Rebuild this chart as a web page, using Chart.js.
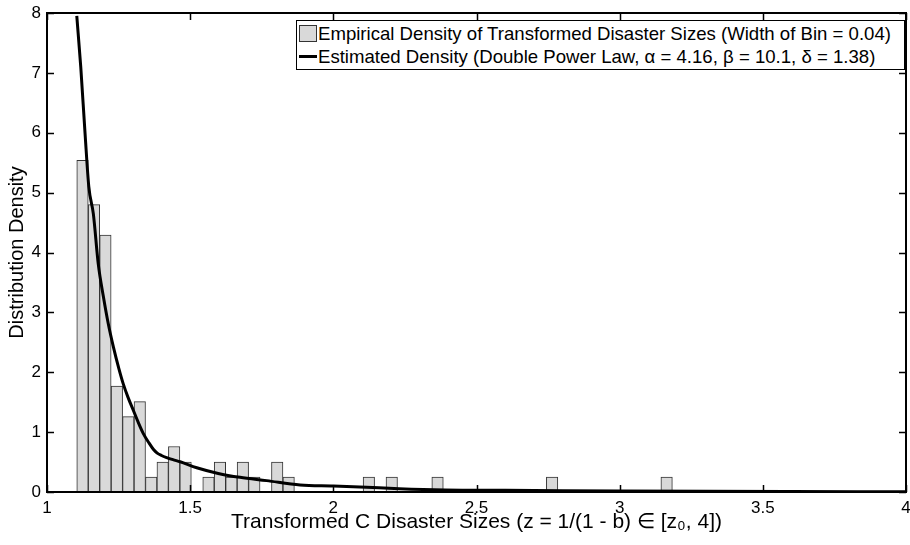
<!DOCTYPE html>
<html>
<head>
<meta charset="utf-8">
<script src="https://cdn.jsdelivr.net/npm/chart.js@4.4.1/dist/chart.umd.min.js"></script>
<style>
  body { margin: 0; background: #fff; }
  #wrap { position: relative; width: 910px; height: 545px; }
  #legend {
    position: absolute; left: 296px; top: 20px; width: 609px; height: 50px;
    border: 1px solid #000; background: #fff;
    font: 18.6px "Liberation Sans", Arial, sans-serif; color: #000;
    padding: 1px 0 0 2px; box-sizing: border-box;
  }
  #legend .row { display: flex; align-items: center; height: 23px; white-space: nowrap; }
  #legend .sw { width: 18px; margin-right: 1px; box-sizing: border-box; }
</style>
</head>
<body>
<div id="wrap">
  <canvas id="chart"></canvas>
  <div id="legend"></div>
</div>
<script>
document.addEventListener('DOMContentLoaded', function () {
    // Histogram bins (width 0.04, first bin starts at z0)
    const binStart = 1.104;
    const binWidth = 0.04;
    const densityValues = [
        5.54, 4.80, 4.29, 1.77, 1.26, 1.51, 0.25, 0.50, 0.76, 0.50,
        0, 0.25, 0.50, 0.25, 0.50, 0.25, 0, 0.50, 0.25, 0,
        0, 0, 0, 0, 0, 0.25, 0, 0.25, 0, 0,
        0, 0.25, 0, 0, 0, 0, 0, 0, 0, 0,
        0, 0.25, 0, 0, 0, 0, 0, 0, 0, 0,
        0, 0.25
    ];
    const binCenters = densityValues.map((v, i) => +(binStart + binWidth * (i + 0.5)).toFixed(4));

    // Estimated density curve
    const curveX = [1.104, 1.118, 1.133, 1.146, 1.162, 1.179, 1.197, 1.214, 1.232, 1.251,
                    1.266, 1.283, 1.301, 1.318, 1.336, 1.356, 1.372, 1.385, 1.40, 1.418, 1.44,
                    1.465, 1.523, 1.598, 1.674, 1.767, 1.884, 2.0, 2.116, 2.23, 2.39,
                    2.6, 2.8, 3.0, 3.3, 3.6, 4.0];
    const curveY = [7.95, 7.09, 5.98, 5.10, 4.64, 3.81, 3.26, 2.81, 2.42, 2.06,
                    1.81, 1.58, 1.37, 1.17, 0.98, 0.82, 0.71, 0.65, 0.61, 0.575, 0.54,
                    0.505, 0.405, 0.31, 0.245, 0.19, 0.117, 0.10, 0.078, 0.055, 0.035,
                    0.028, 0.022, 0.017, 0.012, 0.008, 0.005];

    const xTicks = [1, 1.5, 2, 2.5, 3, 3.5, 4];
    const yTicks = [0, 1, 2, 3, 4, 5, 6, 7, 8];

    const legendLabels = [
        'Empirical Density of Transformed Disaster Sizes (Width of Bin = 0.04)',
        'Estimated Density (Double Power Law, \u03B1 = 4.16, \u03B2 = 10.1, \u03B4 = 1.38)'
    ];

    const font = '"Liberation Sans", Arial, sans-serif';

    // MATLAB style box with inward ticks
    const boxTicks = {
        id: 'boxTicks',
        afterDatasetsDraw(chart) {
            const { ctx, chartArea: a, scales: { x, y } } = chart;
            ctx.save();
            ctx.strokeStyle = '#000';
            ctx.lineWidth = 1.5;
            ctx.beginPath();
            x.ticks.forEach(t => {
                const px = Math.round(x.getPixelForValue(t.value)) + 0.5;
                ctx.moveTo(px, a.bottom); ctx.lineTo(px, a.bottom - 7);
                ctx.moveTo(px, a.top); ctx.lineTo(px, a.top + 7);
            });
            y.ticks.forEach(t => {
                const py = Math.round(y.getPixelForValue(t.value)) + 0.5;
                ctx.moveTo(a.left, py); ctx.lineTo(a.left + 7, py);
                ctx.moveTo(a.right, py); ctx.lineTo(a.right - 7, py);
            });
            ctx.stroke();
            ctx.lineWidth = 2;
            ctx.strokeRect(a.left, a.top, a.right - a.left, a.bottom - a.top);
            ctx.restore();
        }
    };

    const ctx = document.getElementById('chart').getContext('2d');
    const chart = new Chart(ctx, {
        type: 'bar',
        data: {
            datasets: [{
                type: 'line',
                label: legendLabels[1],
                data: curveX.map((x, i) => ({ x: x, y: curveY[i] })),
                borderColor: '#000',
                borderWidth: 3,
                pointRadius: 0,
                cubicInterpolationMode: 'monotone',
                order: 0
            }, {
                type: 'bar',
                label: legendLabels[0],
                data: binCenters.map((x, i) => ({ x: x, y: densityValues[i] })),
                backgroundColor: '#d9d9d9',
                borderColor: '#333',
                borderWidth: 1,
                barPercentage: 1,
                categoryPercentage: 1,
                order: 1
            }]
        },
        options: {
            responsive: true,
            maintainAspectRatio: false,
            animation: false,
            layout: { padding: { top: 13, right: 4 } },
            plugins: { legend: { display: false }, tooltip: { enabled: false } },
            scales: {
                x: {
                    type: 'linear',
                    min: 1, max: 4,
                    offset: false,
                    grid: { display: false, drawTicks: false },
                    border: { display: false },
                    afterBuildTicks: s => { s.ticks = xTicks.map(v => ({ value: v })); },
                    afterFit: s => { s.height = 53; s.paddingLeft = 0; s.paddingRight = 0; },
                    ticks: {
                        color: '#000', padding: 6, maxRotation: 0, autoSkip: false,
                        font: { family: font, size: 17 },
                        callback: v => String(v)
                    },
                    title: {
                        display: true,
                        text: 'Transformed C Disaster Sizes (z = 1/(1 - b) \u2208 [z\u2080, 4])',
                        color: '#000',
                        font: { family: font, size: 21 },
                        padding: { top: 0, bottom: 10 }
                    }
                },
                y: {
                    min: 0, max: 8,
                    grid: { display: false, drawTicks: false },
                    border: { display: false },
                    afterBuildTicks: s => { s.ticks = yTicks.map(v => ({ value: v })); },
                    afterFit: s => { s.width = 47; s.paddingTop = 0; s.paddingBottom = 0; },
                    ticks: {
                        color: '#000', padding: 6,
                        font: { family: font, size: 17 },
                        callback: v => String(v)
                    },
                    title: {
                        display: true,
                        text: 'Distribution Density',
                        color: '#000',
                        font: { family: font, size: 20 },
                        padding: { top: 5, bottom: 0 }
                    }
                }
            }
        },
        plugins: [boxTicks]
    });

    // Legend inside the axes, built from the dataset styles
    const legend = document.getElementById('legend');
    chart.data.datasets.slice().reverse().forEach(ds => {
        const row = document.createElement('div');
        row.className = 'row';
        const sw = document.createElement('span');
        sw.className = 'sw';
        if (ds.type === 'bar') {
            sw.style.height = '17px';
            sw.style.background = ds.backgroundColor;
            sw.style.border = '1px solid ' + ds.borderColor;
        } else {
            sw.style.height = '3px';
            sw.style.background = ds.borderColor;
        }
        const txt = document.createElement('span');
        txt.textContent = ds.label;
        row.appendChild(sw);
        row.appendChild(txt);
        legend.appendChild(row);
    });
});
</script>
</body>
</html>
